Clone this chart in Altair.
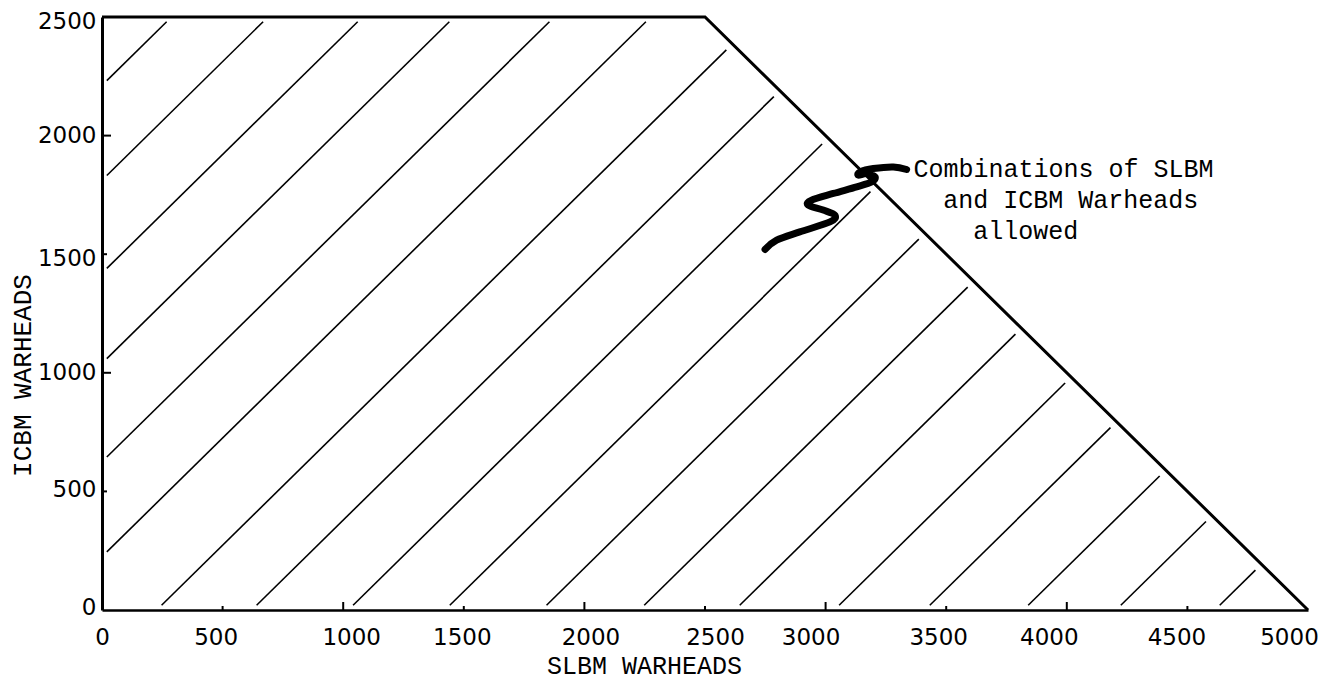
import altair as alt
import pandas as pd

# ---- data ----
x_ticks = [0, 500, 1000, 1500, 2000, 2500, 3000, 3500, 4000, 4500, 5000]
y_ticks = [0, 500, 1000, 1500, 2000, 2500]

# outer boundary of the allowed region (SLBM, ICBM)
boundary_slbm = [0, 2500, 5000]
boundary_icbm = [2500, 2500, 0]

# hatch lines: ICBM = SLBM + offset
hatch_offsets = [2212, 1812, 1420, 1040, 625, 225, -227, -621, -1021, -1422,
                 -1823, -2228, -2624, -3036, -3412, -3820, -4204, -4614]

# hand drawn squiggle pointer
squiggle_slbm = [2749, 2797, 2893, 3018, 3039, 2990, 2928, 2942, 3032, 3129,
                 3191, 3205, 3171, 3136, 3143, 3198, 3281, 3336]
squiggle_icbm = [1520, 1559, 1594, 1636, 1664, 1686, 1707, 1728, 1756, 1784,
                 1805, 1826, 1840, 1833, 1847, 1861, 1868, 1857]

note_lines = ["Combinations of SLBM", "and ICBM Warheads", "allowed"]
note_slbm = [3364, 3488, 3612]
note_icbm = [1826, 1693, 1566]

# typed tick labels sit slightly off their ticks (pixels)
x_label_shift = [0, -7, 8, -2, 6, 10, -15, -8, -18, -11, -19]
y_label_shift = [-3, -2, 0, 4, 0, 4]

# ---- tables ----
START_GAP = 20
END_GAP = 25
rows = []
for d in hatch_offsets:
    if d >= 0:
        x1, y1 = START_GAP, START_GAP + d
        y2 = 2500 - START_GAP
        x2 = y2 - d
    else:
        x1, y1 = START_GAP - d, START_GAP
        x2 = (5000 - d) / 2 - END_GAP
        y2 = x2 + d
    rows.append({"x1": x1, "y1": y1, "x2": x2, "y2": y2})
hatch_df = pd.DataFrame(rows)

boundary_df = pd.DataFrame({"s": boundary_slbm, "i": boundary_icbm,
                            "o": list(range(len(boundary_slbm)))})
squiggle_df = pd.DataFrame({"s": squiggle_slbm, "i": squiggle_icbm,
                            "o": list(range(len(squiggle_slbm)))})
note_df = pd.DataFrame({"s": note_slbm, "i": note_icbm, "t": note_lines})
xt_major = pd.DataFrame({"v": [v for v in x_ticks[1:-1] if v % 1000 == 0]})
xt_minor = pd.DataFrame({"v": [v for v in x_ticks[1:-1] if v % 1000 != 0]})
yt_major = pd.DataFrame({"v": [v for v in y_ticks[1:-1] if v % 1000 == 0]})
yt_minor = pd.DataFrame({"v": [v for v in y_ticks[1:-1] if v % 1000 != 0]})

W, H = 1206, 593
xs = alt.Scale(domain=[0, 5000], nice=False, zero=False)
ys = alt.Scale(domain=[0, 2500], nice=False, zero=False)


def shift_expr(values, shifts):
    return alt.ExprRef(expr="[{}][indexof([{}], datum.value)] || 0".format(
        ",".join(str(s) for s in shifts), ",".join(str(v) for v in values)))


x_axis = alt.Axis(values=x_ticks, title="SLBM WARHEADS", grid=False, ticks=False,
                  tickSize=0, domainColor="black", domainWidth=2.5,
                  labelFont="DejaVu Sans", labelFontSize=23, labelColor="black",
                  labelPadding=16, labelFlush=False, labelOverlap=False, format="d",
                  labelOffset=shift_expr(x_ticks, x_label_shift),
                  titleFont="Liberation Mono", titleFontSize=25, titleFontWeight="normal",
                  titleColor="black", titleX=542, titleY=63,
                  titleBaseline="alphabetic", titleAlign="center")
y_axis = alt.Axis(values=y_ticks, title="ICBM WARHEADS", grid=False, ticks=False,
                  tickSize=0, domainColor="black", domainWidth=3,
                  labelFont="DejaVu Sans", labelFontSize=23, labelColor="black",
                  labelPadding=6, labelFlush=False, labelOverlap=False, format="d",
                  labelOffset=shift_expr(y_ticks, y_label_shift),
                  titleFont="Liberation Mono", titleFontSize=26, titleFontWeight="normal",
                  titleColor="black", titleX=-72, titleY=358, titleAngle=270,
                  titleBaseline="alphabetic", titleAlign="center")

hatch = alt.Chart(hatch_df).mark_rule(color="black", strokeWidth=1.6).encode(
    x=alt.X("x1:Q", scale=xs, axis=x_axis),
    y=alt.Y("y1:Q", scale=ys, axis=y_axis),
    x2="x2:Q", y2="y2:Q")

boundary = alt.Chart(boundary_df).mark_line(color="black", strokeWidth=3,
                                            strokeJoin="miter").encode(
    x=alt.X("s:Q", scale=xs), y=alt.Y("i:Q", scale=ys), order="o:Q")

squiggle = alt.Chart(squiggle_df).mark_line(color="black", strokeWidth=7,
                                            interpolate="cardinal",
                                            strokeCap="round", strokeJoin="round").encode(
    x=alt.X("s:Q", scale=xs), y=alt.Y("i:Q", scale=ys), order="o:Q")

xtick_major = alt.Chart(xt_major).mark_rule(color="black", strokeWidth=2).encode(
    x=alt.X("v:Q", scale=xs), y=alt.value(H), y2=alt.value(H - 8))
xtick_minor = alt.Chart(xt_minor).mark_rule(color="black", strokeWidth=2).encode(
    x=alt.X("v:Q", scale=xs), y=alt.value(H), y2=alt.value(H - 4))
ytick_major = alt.Chart(yt_major).mark_rule(color="black", strokeWidth=2).encode(
    y=alt.Y("v:Q", scale=ys), x=alt.value(0), x2=alt.value(9))
ytick_minor = alt.Chart(yt_minor).mark_rule(color="black", strokeWidth=2).encode(
    y=alt.Y("v:Q", scale=ys), x=alt.value(0), x2=alt.value(5))

notes = alt.Chart(note_df).mark_text(font="Liberation Mono", fontSize=25,
                                     align="left", baseline="alphabetic",
                                     color="black").encode(
    x=alt.X("s:Q", scale=xs), y=alt.Y("i:Q", scale=ys), text="t:N")

chart = alt.layer(hatch, boundary, squiggle, xtick_major, xtick_minor,
                  ytick_major, ytick_minor, notes).properties(
    width=W, height=H,
    autosize=alt.AutoSizeParams(type="none"),
    padding={"left": 94, "top": 9, "right": 21, "bottom": 73},
    background="white",
).configure_view(stroke=None)

chart.save("out.html", embed_options={"renderer": "svg", "actions": False})
